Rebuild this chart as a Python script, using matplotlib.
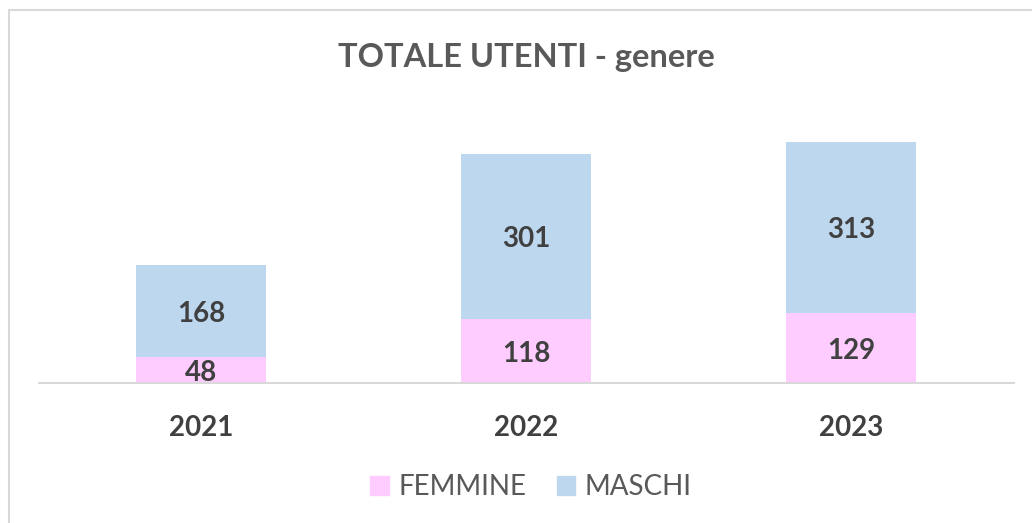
import matplotlib.pyplot as plt
from matplotlib.patches import Rectangle, Patch
import numpy as np

years = ["2021", "2022", "2023"]
femmine = [48, 118, 129]
maschi = [168, 301, 313]

PINK = "#FFCCFF"
BLUE = "#BDD7EE"
FONT = "Lato"


def plot_data():
    fig = plt.figure(figsize=(10.32, 5.23), dpi=100)
    fig.patch.set_facecolor("white")

    # light grey frame around the chart area (runs off the right/bottom)
    fig.add_artist(Rectangle((9 / 1032, -0.1), 1.2, 1 - 10 / 523 + 0.1,
                             transform=fig.transFigure, fill=False,
                             edgecolor="#D9D9D9", linewidth=1.5))

    ax = fig.add_axes([38.5 / 1032, 140 / 523, 975 / 1032, 273 / 523])
    x = np.arange(len(years))
    ax.bar(x, femmine, width=0.4, color=PINK, zorder=2)
    ax.bar(x, maschi, width=0.4, bottom=femmine, color=BLUE, zorder=2)

    label_kw = dict(ha="center", va="center", fontsize=20, fontweight="bold",
                    color="#404040", family=FONT, textcoords="offset points",
                    xytext=(0, -2.2))
    for i in x:
        ax.annotate(str(femmine[i]), (i, femmine[i] / 2), **label_kw)
        ax.annotate(str(maschi[i]), (i, femmine[i] + maschi[i] / 2), **label_kw)

    ax.set_xlim(-0.5, 2.5)
    ax.set_ylim(0, 500)
    ax.set_xticks(x)
    ax.set_xticklabels(years, fontsize=20, fontweight="bold", color="#404040",
                       family=FONT)
    ax.tick_params(axis="x", length=0, pad=23)
    ax.set_yticks([])
    for side in ["top", "left", "right"]:
        ax.spines[side].set_visible(False)
    ax.spines["bottom"].set_color("#D9D9D9")
    ax.spines["bottom"].set_linewidth(1.5)

    fig.text(526 / 1032, 1 - 57 / 523, "TOTALE UTENTI - genere", ha="center",
             va="center", fontsize=23.5, fontweight="bold", color="#595959",
             family=FONT)

    handles = [Patch(color=PINK, label="FEMMINE"), Patch(color=BLUE, label="MASCHI")]
    fig.legend(handles=handles, loc="center", bbox_to_anchor=(531 / 1032, 1 - 487 / 523),
               ncol=2, frameon=False, prop={"family": FONT, "size": 20},
               labelcolor="#595959", handlelength=0.65, handleheight=0.65,
               handletextpad=0.35, columnspacing=1.1)

    fig.savefig("out.png", dpi=100)


if __name__ == "__main__":
    plot_data()
